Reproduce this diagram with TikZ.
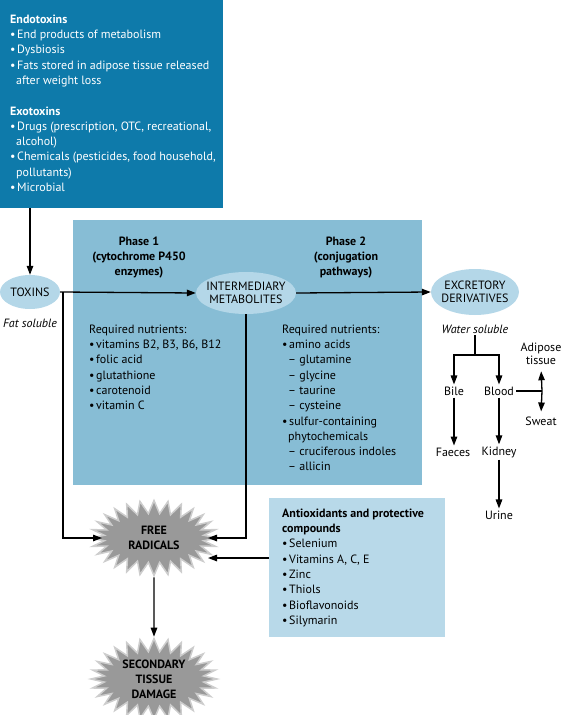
\documentclass[tikz,border=0pt]{standalone}
\usepackage{fontspec}
\setmainfont{PT Sans}
\usetikzlibrary{arrows.meta,shapes.symbols,shapes.geometric}
\definecolor{darkblue}{RGB}{14,122,170}
\definecolor{phaseblue}{RGB}{135,189,213}
\definecolor{ellblue}{RGB}{180,215,232}
\definecolor{antiblue}{RGB}{184,217,233}
\definecolor{burstgray}{RGB}{153,153,153}
\definecolor{burstrim}{RGB}{205,205,205}
\newcommand{\bul}{\makebox[7pt][l]{\textbullet}}
\newcommand{\myind}{\makebox[6pt][l]{}}
\newcommand{\fs}{\fontsize{12}{15.3}\selectfont}
\begin{document}
\begin{tikzpicture}[x=1pt,y=-1pt,
  >={Triangle[length=9pt,width=6.5pt]},
  conn/.style={line width=1.3pt,draw=black},
  panel/.style={anchor=north west,inner sep=0pt,draw=none},
  txt/.style={anchor=north west,align=left,inner sep=0pt,font=\fs},
  ell/.style={ellipse,fill=ellblue,inner sep=0pt,align=center,font=\fontsize{12}{13.5}\selectfont},
  burst/.style={starburst,random starburst=0,starburst points=28,starburst point height=13pt,
     fill=burstgray,draw=burstrim,line width=1.5pt,align=center,inner sep=0pt,
     font=\fontsize{12}{15}\selectfont\bfseries},
  lbl/.style={inner sep=2pt,font=\fontsize{12}{13.5}\selectfont,align=center}]
\useasboundingbox (0,0) rectangle (562,715);

% panels
\node[panel,fill=darkblue,minimum width=223pt,minimum height=208pt] (src) at (0,0) {};
\node[panel,fill=phaseblue,minimum width=349pt,minimum height=265pt] (phase) at (73,220) {};
\node[panel,fill=antiblue,minimum width=176pt,minimum height=139pt] (anti) at (269,498) {};

% source text
\node[txt,text=white] (srctext) at (10,14.5) {\textbf{Endotoxins}\\
\bul End products of metabolism\\
\bul Dysbiosis\\
\bul Fats stored in adipose tissue released\\
\myind after weight loss\\[15.3pt]
\textbf{Exotoxins}\\
\bul Drugs (prescription, OTC, recreational,\\
\myind alcohol)\\
\bul Chemicals (pesticides, food household,\\
\myind pollutants)\\
\bul Microbial};

% phase headings
\node[font=\fontsize{12}{15}\selectfont\bfseries,align=center,inner sep=0pt] (p1) at (139,258) {Phase 1\\(cytochrome P450\\enzymes)};
\node[font=\fontsize{12}{15}\selectfont\bfseries,align=center,inner sep=0pt] (p2) at (346,258) {Phase 2\\(conjugation\\pathways)};

% nutrients
\node[txt] (n1) at (89,324.5) {Required nutrients:\\
\bul vitamins B2, B3, B6, B12\\
\bul folic acid\\
\bul glutathione\\
\bul carotenoid\\
\bul vitamin C};
\node[txt] (n2) at (282,324.5) {Required nutrients:\\
\bul amino acids\\
\myind -- glutamine\\
\myind -- glycine\\
\myind -- taurine\\
\myind -- cysteine\\
\bul sulfur-containing\\
\myind phytochemicals\\
\myind -- cruciferous indoles\\
\myind -- allicin};

% antioxidant text
\node[txt] (antitext) at (282,508.5) {\textbf{Antioxidants and protective}\\
\textbf{compounds}\\
\bul Selenium\\
\bul Vitamins A, C, E\\
\bul Zinc\\
\bul Thiols\\
\bul Bioflavonoids\\
\bul Silymarin};

% ellipses
\node[ell,minimum width=60pt,minimum height=34pt] (tox) at (30,292) {TOXINS};
\node[ell,minimum width=100pt,minimum height=42pt,inner xsep=-10pt,inner ysep=-5pt] (inter) at (246,293) {INTERMEDIARY\\METABOLITES};
\node[ell,minimum width=88pt,minimum height=46pt,inner xsep=-8pt,inner ysep=-4pt] (excr) at (475,292) {EXCRETORY\\DERIVATIVES};

\node[lbl,font=\fontsize{12}{13.5}\selectfont\itshape] (fat) at (30,323) {Fat soluble};
\node[lbl,font=\fontsize{12}{13.5}\selectfont\itshape] (ws) at (475,329) {Water soluble};

% starbursts
\node[burst,minimum width=126pt,minimum height=75pt] (fr) at (154,538) {FREE\\RADICALS};
\node[burst,minimum width=126pt,minimum height=80pt] (sec) at (154,679) {SECONDARY\\TISSUE\\DAMAGE};
\coordinate (frl) at ([xshift=-52pt]fr.center);
\coordinate (frr) at ([xshift=54pt]fr.center);
\coordinate (fra) at ([xshift=54pt,yshift=-20pt]fr.center);

% main connectors
\draw[conn,->] (src.south -| tox) -- (tox.north);
\draw[conn,->] (tox.east) -- (inter.west);
\draw[conn,->] (inter.east) -- (excr.west);
\coordinate (j1) at (63,292);
\draw[conn,->] (j1) |- (frl);
\draw[conn,->] (inter.south) |- (frr);
\draw[conn,->] (anti.west |- fra) -- (fra);
\draw[conn,->] (fr.south) -- (sec.north);

% excretion tree
\node[lbl] (bile) at (454,391) {Bile};
\node[lbl] (blood) at (499,391) {Blood};
\node[lbl] (faeces) at (453,452) {Faeces};
\node[lbl] (kidney) at (499,452) {Kidney};
\node[lbl] (urine) at (499,515) {Urine};
\node[lbl] (adip) at (541,354) {Adipose\\tissue};
\node[lbl] (sweat) at (541,421) {Sweat};
\coordinate (sp) at (475,355);
\coordinate (bj) at (542,391);
\draw[conn] (ws.south) -- (sp);
\draw[conn,->] (sp) -| (bile.north);
\draw[conn,->] (sp) -| (blood.north);
\draw[conn,->] (bile.south) -- (bile.south |- faeces.north);
\draw[conn,->] (blood.south) -- (kidney.north);
\draw[conn,->] (kidney.south) -- (urine.north);
\draw[conn] (blood.east) -- (bj);
\draw[conn,->,shorten >=4pt] (bj) -- (adip.south);
\draw[conn,->,shorten >=3pt] (bj) -- (sweat.north);
\end{tikzpicture}
\end{document}
